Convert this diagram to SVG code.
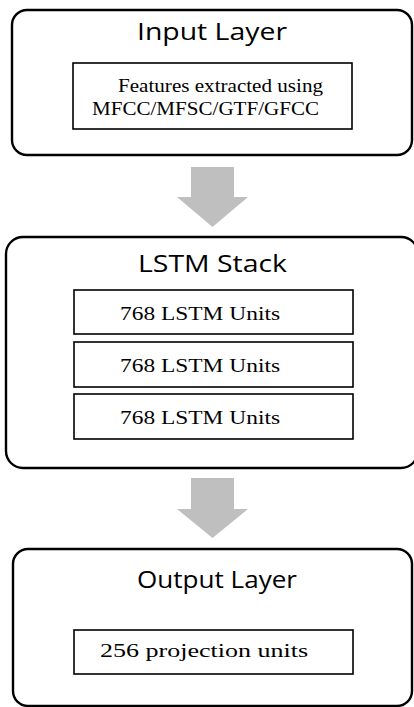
<svg xmlns="http://www.w3.org/2000/svg" width="414" height="707" viewBox="0 0 414 707">
  <style>
    .layer { fill: #ffffff; stroke: #000000; stroke-width: 2.4; }
    .unit { fill: #ffffff; stroke: #000000; stroke-width: 1.6; }
    .title { font-family: "Open Sans", "Liberation Sans", sans-serif; font-size: 24px; fill: #000000; }
    .label { font-family: "Liberation Serif", "Times New Roman", serif; font-size: 19.5px; fill: #000000; }
    .flow { fill: #bfbfbf; stroke: none; }
  </style>
  <rect width="414" height="707" fill="#ffffff"/>

  <!-- Input layer -->
  <g id="input-layer">
    <rect class="layer" x="12" y="10" width="400" height="145" rx="15" ry="15"/>
    <text class="title" x="137" y="40" textLength="150" lengthAdjust="spacingAndGlyphs">Input Layer</text>
    <g id="features">
      <rect class="unit" x="73" y="63" width="279" height="66"/>
      <text class="label" x="118" y="92" textLength="205" lengthAdjust="spacingAndGlyphs">Features extracted using</text>
      <text class="label" x="92" y="115" textLength="227" lengthAdjust="spacingAndGlyphs">MFCC/MFSC/GTF/GFCC</text>
    </g>
  </g>

  <!-- LSTM stack -->
  <g id="lstm-stack">
    <rect class="layer" x="6" y="237" width="412" height="231" rx="17" ry="17"/>
    <text class="title" x="138" y="272" textLength="149" lengthAdjust="spacingAndGlyphs">LSTM Stack</text>
    <g id="lstm-1">
      <rect class="unit" x="74" y="290" width="279" height="44"/>
      <text class="label" x="120" y="320" textLength="160" lengthAdjust="spacingAndGlyphs">768 LSTM Units</text>
    </g>
    <g id="lstm-2">
      <rect class="unit" x="74" y="342" width="279" height="45"/>
      <text class="label" x="120" y="372" textLength="160" lengthAdjust="spacingAndGlyphs">768 LSTM Units</text>
    </g>
    <g id="lstm-3">
      <rect class="unit" x="74" y="394" width="279" height="45"/>
      <text class="label" x="120" y="424" textLength="160" lengthAdjust="spacingAndGlyphs">768 LSTM Units</text>
    </g>
  </g>

  <!-- Output layer -->
  <g id="output-layer">
    <rect class="layer" x="13" y="549" width="399" height="157" rx="15" ry="15"/>
    <text class="title" x="137" y="588" textLength="160" lengthAdjust="spacingAndGlyphs">Output Layer</text>
    <g id="projection">
      <rect class="unit" x="74" y="630" width="279" height="44"/>
      <text class="label" x="100" y="657" textLength="208" lengthAdjust="spacingAndGlyphs">256 projection units</text>
    </g>
  </g>

  <!-- Block arrows between layers -->
  <g id="connectors">
    <polygon class="flow" points="191,167 234,167 234,197 248,197 212.5,227 177,197 191,197"/>
    <polygon class="flow" points="191,478 234,478 234,509 248,509 212.5,538 177,509 191,509"/>
  </g>
</svg>
